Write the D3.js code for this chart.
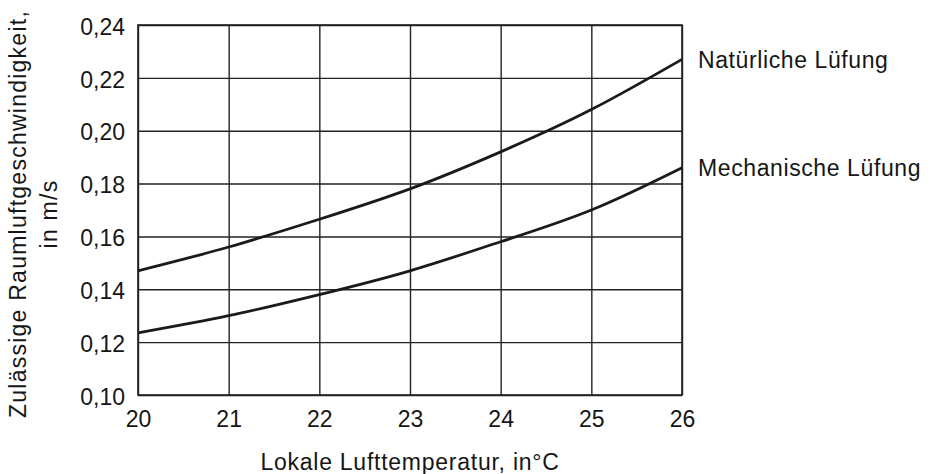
<!DOCTYPE html>
<html>
<head>
<meta charset="utf-8">
<script src="https://cdn.jsdelivr.net/npm/d3@7"></script>
<style>
  body { margin: 0; background: #fff; }
  svg text { font-family: "Liberation Sans", Arial, sans-serif; fill: #161616; }
</style>
</head>
<body>
<div id="chart"></div>
<script>
// data
var temps = [20, 21, 22, 23, 24, 25, 26];
var natural = [0.147, 0.156, 0.1665, 0.178, 0.192, 0.208, 0.227];
var mechanical = [0.1235, 0.130, 0.138, 0.147, 0.158, 0.170, 0.186];
var seriesNames = ["Natürliche Lüfung", "Mechanische Lüfung"];
var yTicks = [0.10, 0.12, 0.14, 0.16, 0.18, 0.20, 0.22, 0.24];
var xTicks = [20, 21, 22, 23, 24, 25, 26];

// set the dimensions and margins of the graph
var margin = { top: 25, right: 251, bottom: 79, left: 138 },
  width = 933 - margin.left - margin.right,
  height = 474 - margin.top - margin.bottom;

var svg = d3.select("#chart")
  .append("svg")
  .attr("width", 933)
  .attr("height", 474)
  .append("g")
  .attr("transform", "translate(" + margin.left + "," + margin.top + ")");

var x = d3.scaleLinear().domain([20, 26]).range([0, width]);
var y = d3.scaleLinear().domain([0.10, 0.24]).range([height, 0]);

var de = d3.formatLocale({ decimal: ",", thousands: ".", grouping: [3], currency: ["", " €"] });
var fmt = de.format(".2f");

var ink = "#222";

// X axis with grid
var gx = svg.append("g")
  .attr("transform", "translate(0," + height + ")")
  .call(d3.axisBottom(x).tickValues(xTicks).tickSize(-height).tickPadding(16).tickFormat(d3.format("d")));
gx.select(".domain").remove();
gx.selectAll("line").attr("stroke", ink).attr("stroke-width", 1.4);
gx.selectAll("text").attr("font-size", 23).attr("fill", "#161616");

// Y axis with grid
var gy = svg.append("g")
  .call(d3.axisLeft(y).tickValues(yTicks).tickSize(-width).tickPadding(13).tickFormat(fmt));
gy.select(".domain").remove();
gy.selectAll("line").attr("stroke", ink).attr("stroke-width", 1.4);
gy.selectAll("text").attr("font-size", 23).attr("dy", "0.4em").attr("fill", "#161616");

// frame
svg.append("rect")
  .attr("x", 0).attr("y", 0)
  .attr("width", width).attr("height", height)
  .attr("fill", "none").attr("stroke", ink).attr("stroke-width", 1.6);

// curves
var line = d3.line()
  .curve(d3.curveNatural)
  .x(function (d, i) { return x(temps[i]); })
  .y(function (d) { return y(d); });

[natural, mechanical].forEach(function (vals, k) {
  svg.append("path")
    .datum(vals)
    .attr("fill", "none")
    .attr("stroke", "#1a1a1a")
    .attr("stroke-width", 2.8)
    .attr("d", line);

  svg.append("text")
    .attr("x", x(26) + 16)
    .attr("y", y(vals[vals.length - 1]))
    .attr("dy", "0.36em")
    .attr("font-size", 23)
    .style("letter-spacing", "0.6px")
    .text(seriesNames[k]);
});

// axis titles
svg.append("text")
  .attr("x", width / 2)
  .attr("y", height + 75)
  .attr("text-anchor", "middle")
  .attr("font-size", 23)
  .style("letter-spacing", "0.75px")
  .text("Lokale Lufttemperatur, in°C");

var yt = svg.append("text")
  .attr("transform", "translate(" + (26 - margin.left) + "," + (height / 2 + 4) + ") rotate(-90)")
  .attr("text-anchor", "middle")
  .attr("font-size", 23)
  .style("letter-spacing", "1.25px");
yt.append("tspan").attr("x", 0).attr("y", 0).text("Zulässige Raumluftgeschwindigkeit,");
yt.append("tspan").attr("x", 0).attr("y", 31).text("in m/s");
</script>
</body>
</html>
